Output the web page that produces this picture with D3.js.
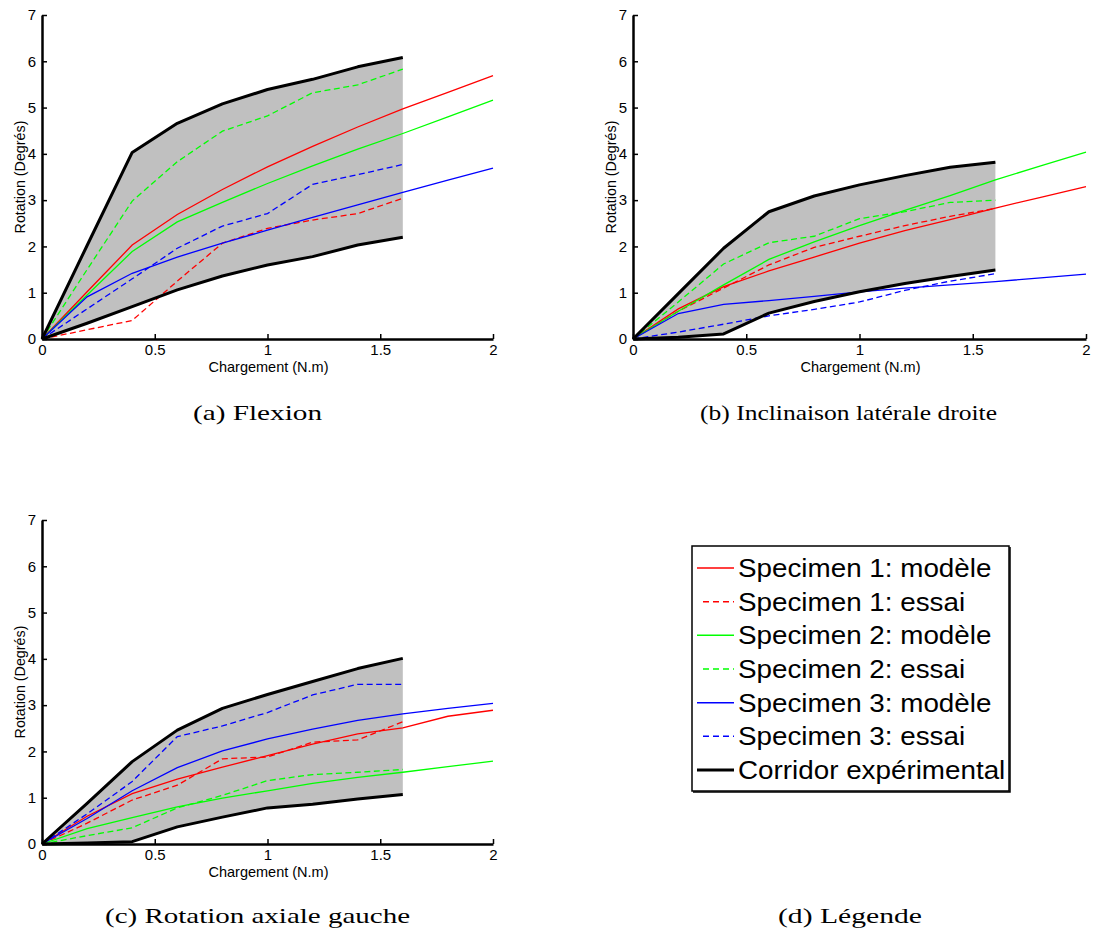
<!DOCTYPE html>
<html><head><meta charset="utf-8">
<script src="https://cdn.jsdelivr.net/npm/d3@7"></script>
<style>body{margin:0;background:#fff}svg{display:block}</style>
</head><body>
<svg id="c" width="1094" height="936"></svg>
<script>
// ---------- DATA ----------
const xTicks = [0, 0.5, 1, 1.5, 2];
const xTickLabels = ["0", "0.5", "1", "1.5", "2"];
const yTicks = [0, 1, 2, 3, 4, 5, 6, 7];
const expX = [0, 0.2, 0.4, 0.6, 0.8, 1.0, 1.2, 1.4, 1.6];
const modX = [0, 0.2, 0.4, 0.6, 0.8, 1.0, 1.2, 1.4, 1.6, 1.8, 2.0];

// (a) Flexion
const aUpper = [0, 2.02, 4.03, 4.66, 5.08, 5.39, 5.61, 5.88, 6.08];
const aLower = [0, 0.34, 0.70, 1.06, 1.36, 1.60, 1.78, 2.03, 2.20];
const aS1mod = [0, 1.02, 2.03, 2.69, 3.23, 3.72, 4.16, 4.58, 4.97, 5.33, 5.69];
const aS1ess = [0, 0.20, 0.40, 1.25, 2.07, 2.39, 2.57, 2.71, 3.04];
const aS2mod = [0, 0.95, 1.89, 2.53, 2.95, 3.36, 3.74, 4.10, 4.44, 4.80, 5.16];
const aS2ess = [0, 1.50, 2.98, 3.83, 4.49, 4.82, 5.32, 5.49, 5.83];
const aS3mod = [0, 0.91, 1.42, 1.77, 2.07, 2.35, 2.63, 2.90, 3.17, 3.43, 3.69];
const aS3ess = [0, 0.65, 1.30, 1.96, 2.44, 2.71, 3.34, 3.55, 3.77];

// (b) Inclinaison latérale droite
const bUpper = [0, 0.98, 1.96, 2.75, 3.09, 3.33, 3.53, 3.71, 3.82];
const bLower = [0, 0.04, 0.11, 0.56, 0.81, 1.02, 1.20, 1.35, 1.49];
const bS1mod = [0, 0.65, 1.13, 1.47, 1.77, 2.07, 2.34, 2.58, 2.83, 3.06, 3.29];
const bS1ess = [0, 0.60, 1.10, 1.60, 1.98, 2.22, 2.45, 2.65, 2.82];
const bS2mod = [0, 0.60, 1.17, 1.72, 2.10, 2.45, 2.78, 3.10, 3.44, 3.74, 4.04];
const bS2ess = [0, 0.80, 1.62, 2.08, 2.22, 2.60, 2.75, 2.95, 3.00];
const bS3mod = [0, 0.55, 0.75, 0.83, 0.92, 1.02, 1.10, 1.17, 1.24, 1.32, 1.40];
const bS3ess = [0, 0.15, 0.32, 0.50, 0.64, 0.80, 1.05, 1.25, 1.41];

// (c) Rotation axiale gauche
const cUpper = [0, 0.88, 1.78, 2.46, 2.93, 3.23, 3.51, 3.79, 4.01];
const cLower = [0, 0.02, 0.05, 0.37, 0.58, 0.78, 0.86, 0.97, 1.07];
const cS1mod = [0, 0.60, 1.09, 1.40, 1.66, 1.91, 2.16, 2.38, 2.51, 2.76, 2.89];
const cS1ess = [0, 0.45, 0.95, 1.27, 1.84, 1.88, 2.20, 2.25, 2.64];
const cS2mod = [0, 0.33, 0.57, 0.80, 0.99, 1.15, 1.31, 1.44, 1.55, 1.67, 1.79];
const cS2ess = [0, 0.18, 0.35, 0.78, 1.05, 1.37, 1.50, 1.55, 1.61];
const cS3mod = [0, 0.55, 1.15, 1.65, 2.01, 2.27, 2.48, 2.67, 2.81, 2.93, 3.04];
const cS3ess = [0, 0.65, 1.35, 2.32, 2.55, 2.84, 3.22, 3.45, 3.45];

const captions = ["(a)  Flexion", "(b)  Inclinaison latérale droite", "(c)  Rotation axiale gauche", "(d)  Légende"];
const legendLabels = ["Specimen 1: modèle", "Specimen 1: essai", "Specimen 2: modèle", "Specimen 2: essai", "Specimen 3: modèle", "Specimen 3: essai", "Corridor expérimental"];
const seriesColors = ["#ff0000", "#ff0000", "#00ff00", "#00ff00", "#0000ff", "#0000ff", "#000000"];
const seriesDashed = [false, true, false, true, false, true, false];
const xLabel = "Chargement (N.m)";
const yLabel = "Rotation (Degrés)";

// ---------- DRAW ----------
const svg = d3.select("#c");
const SANS = "'Liberation Sans', Arial, sans-serif";
const SERIF = "'Liberation Serif', 'DejaVu Serif', serif";

const panels = [
  {x0: 42, x1: 493, yb: 339, yt: 15, up: aUpper, lo: aLower, s: [aS1mod, aS1ess, aS2mod, aS2ess, aS3mod, aS3ess]},
  {x0: 633, x1: 1086, yb: 339, yt: 15, up: bUpper, lo: bLower, s: [bS1mod, bS1ess, bS2mod, bS2ess, bS3mod, bS3ess]},
  {x0: 42, x1: 493, yb: 844, yt: 520, up: cUpper, lo: cLower, s: [cS1mod, cS1ess, cS2mod, cS2ess, cS3mod, cS3ess]}
];

panels.forEach(p => {
  const x = d3.scaleLinear().domain([0, 2]).range([p.x0, p.x1]);
  const y = d3.scaleLinear().domain([0, 7]).range([p.yb, p.yt]);
  const g = svg.append("g");
  const area = d3.area().x((d, i) => x(expX[i])).y0((d, i) => y(p.lo[i])).y1((d, i) => y(p.up[i]));
  g.append("path").datum(p.up).attr("d", area).attr("fill", "#c0c0c0");
  p.s.forEach((vals, k) => {
    const xs = vals.length === modX.length ? modX : expX;
    const line = d3.line().x((d, i) => x(xs[i])).y(d => y(d));
    g.append("path").datum(vals).attr("d", line)
      .attr("fill", "none").attr("stroke", seriesColors[k]).attr("stroke-width", 1.3)
      .attr("stroke-dasharray", seriesDashed[k] ? "6,3.5" : null);
  });
  [p.up, p.lo].forEach(vals => {
    const line = d3.line().x((d, i) => x(expX[i])).y(d => y(d));
    g.append("path").datum(vals).attr("d", line)
      .attr("fill", "none").attr("stroke", "#000").attr("stroke-width", 3).attr("stroke-linejoin", "round");
  });
  const xa = g.append("g").attr("transform", `translate(0,${p.yb})`)
    .call(d3.axisBottom(x).tickValues(xTicks).tickFormat((d, i) => xTickLabels[i]).tickSizeInner(-5).tickSizeOuter(0).tickPadding(5));
  xa.select(".domain").attr("stroke-width", 2.5);
  xa.selectAll(".tick line").attr("stroke-width", 1.5);
  xa.selectAll("text").attr("font-family", SANS).attr("font-size", 15).attr("fill", "#000");
  const ya = g.append("g").attr("transform", `translate(${p.x0},0)`)
    .call(d3.axisLeft(y).tickValues(yTicks).tickFormat(d3.format("d")).tickSizeInner(-5).tickSizeOuter(0).tickPadding(6));
  ya.select(".domain").attr("stroke-width", 2.5);
  ya.selectAll(".tick line").attr("stroke-width", 1.5);
  ya.selectAll("text").attr("font-family", SANS).attr("font-size", 15).attr("fill", "#000");
  g.append("text").attr("x", (p.x0 + p.x1) / 2 + 1).attr("y", p.yb + 33)
    .attr("text-anchor", "middle").attr("font-family", SANS).attr("font-size", 14.5).text(xLabel);
  g.append("text").attr("transform", `translate(${p.x0 - 17},${(p.yb + p.yt) / 2}) rotate(-90)`)
    .attr("text-anchor", "middle").attr("font-family", SANS).attr("font-size", 14.3).text(yLabel);
});

// captions
const capPos = [[257.5, 420, 129], [848.5, 420, 297], [257.5, 923, 305], [850, 923, 144]];
captions.forEach((t, i) => {
  svg.append("text").attr("x", capPos[i][0]).attr("y", capPos[i][1]).attr("text-anchor", "middle")
    .attr("font-family", SERIF).attr("font-size", 21).attr("textLength", capPos[i][2])
    .attr("lengthAdjust", "spacingAndGlyphs").text(t);
});

// legend
const lg = svg.append("g");
lg.append("rect").attr("x", 692).attr("y", 546).attr("width", 317).attr("height", 245)
  .attr("fill", "#fff").attr("stroke", "#000").attr("stroke-width", 1.5);
lg.append("path").attr("d", "M1010,547 V792 H693").attr("fill", "none").attr("stroke", "#000").attr("stroke-width", 1.5);
const rowY = d3.scaleLinear().domain([0, 6]).range([568, 770]);
legendLabels.forEach((t, i) => {
  const yy = rowY(i);
  lg.append("line").attr("x1", seriesDashed[i] ? 703 : 697).attr("x2", 734).attr("y1", yy).attr("y2", yy)
    .attr("stroke", seriesColors[i]).attr("stroke-width", i === 6 ? 3 : 1.5)
    .attr("stroke-dasharray", seriesDashed[i] ? "6,4" : null);
  lg.append("text").attr("transform", `translate(738,${yy + 9}) scale(1.07,1)`)
    .attr("font-family", SANS).attr("font-size", 26).text(t);
});
</script>
</body></html>
